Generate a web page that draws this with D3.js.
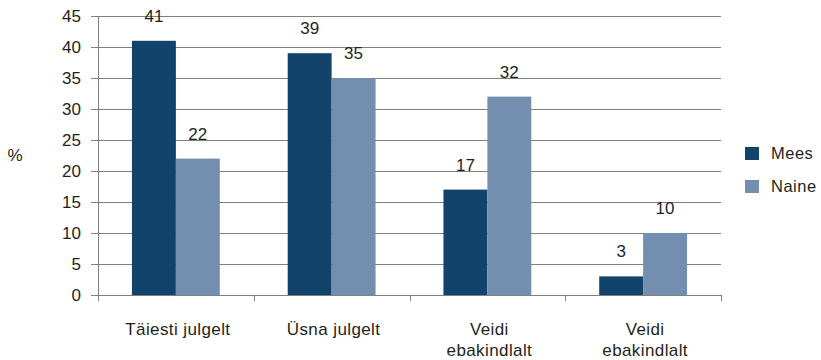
<!DOCTYPE html>
<html><head><meta charset="utf-8">
<script src="https://cdn.jsdelivr.net/npm/d3@7"></script>
<style>body{margin:0;background:#fff;} text{font-family:"Liberation Sans",Arial,sans-serif;fill:#231f20;}</style>
</head><body>
<svg id="c" width="821" height="360"></svg>
<script>
const categories = [["Täiesti julgelt"], ["Üsna julgelt"], ["Veidi", "ebakindlalt"], ["Veidi", "ebakindlalt"]];
const seriesNames = ["Mees", "Naine"];
const mees = [41, 39, 17, 3];
const naine = [22, 35, 32, 10];
const yTicks = [0, 5, 10, 15, 20, 25, 30, 35, 40, 45];
const colors = ["#12436a", "#738eaf"];

const svg = d3.select("#c");
const m = {l: 98, r: 721, t: 16, b: 295};
const x = d3.scaleBand().domain(d3.range(categories.length)).range([m.l, m.r]);
const bw = x.bandwidth();
const x1 = d3.scaleBand().domain(d3.range(seriesNames.length)).range([bw * 0.218, bw * 0.782]);
const y = d3.scaleLinear().domain([0, 45]).range([m.b, m.t]);

// gridlines
svg.append("g").selectAll("line").data(yTicks).join("line")
  .attr("x1", m.l - 7).attr("x2", m.r).attr("y1", d => Math.round(y(d)) + 0.5).attr("y2", d => Math.round(y(d)) + 0.5)
  .attr("stroke", "#7f7f7f").attr("stroke-width", 1);
// y tick labels
svg.append("g").selectAll("text").data(yTicks).join("text")
  .attr("x", 81).attr("y", d => y(d)).attr("dy", "0.35em").attr("text-anchor", "end")
  .attr("font-size", 17).text(d => d);
// y axis line
svg.append("line").attr("x1", m.l + 0.5).attr("x2", m.l + 0.5).attr("y1", m.t).attr("y2", m.b + 6)
  .attr("stroke", "#7f7f7f");
// x axis ticks
svg.append("g").selectAll("line").data(d3.range(categories.length + 1)).join("line")
  .attr("x1", d => Math.round(m.l + d * bw) + 0.5).attr("x2", d => Math.round(m.l + d * bw) + 0.5)
  .attr("y1", m.b).attr("y2", m.b + 6).attr("stroke", "#7f7f7f");

const data = [mees, naine];
const g = svg.append("g");
data.forEach((vals, si) => {
  g.selectAll(null).data(vals).join("rect")
    .attr("x", (d, i) => x(i) + x1(si)).attr("width", x1.bandwidth())
    .attr("y", d => y(d)).attr("height", d => y(0) - y(d))
    .attr("fill", colors[si]);
  g.selectAll(null).data(vals).join("text")
    .attr("x", (d, i) => x(i) + x1(si) + x1.bandwidth() / 2)
    .attr("y", d => y(d) - 19).attr("text-anchor", "middle").attr("font-size", 17)
    .text(d => d);
});
svg.append("line").attr("x1", m.l - 7).attr("x2", m.r).attr("y1", m.b + 0.5).attr("y2", m.b + 0.5).attr("stroke", "#7f7f7f");

// category labels
const cl = svg.append("g");
categories.forEach((lines, i) => {
  const cx = x(i) + bw / 2 + 2;
  const t = cl.append("text").attr("text-anchor", "middle").attr("font-size", 17)
    .attr("letter-spacing", 0.4).attr("x", cx).attr("y", 335);
  lines.forEach((ln, k) => t.append("tspan").attr("x", cx).attr("dy", k ? 21 : 0).text(ln));
});

// % label
svg.append("text").attr("x", 15).attr("y", 155).attr("dy", "0.35em").attr("text-anchor", "middle").attr("font-size", 17).text("%");

// legend
const lg = svg.append("g");
seriesNames.forEach((n, i) => {
  lg.append("rect").attr("x", 745).attr("y", 147 + i * 33).attr("width", 14).attr("height", 13).attr("fill", colors[i]);
  lg.append("text").attr("x", 771).attr("y", 159 + i * 33).attr("font-size", 16.5)
    .attr("letter-spacing", 0.5).text(n);
});
</script>
</body></html>
